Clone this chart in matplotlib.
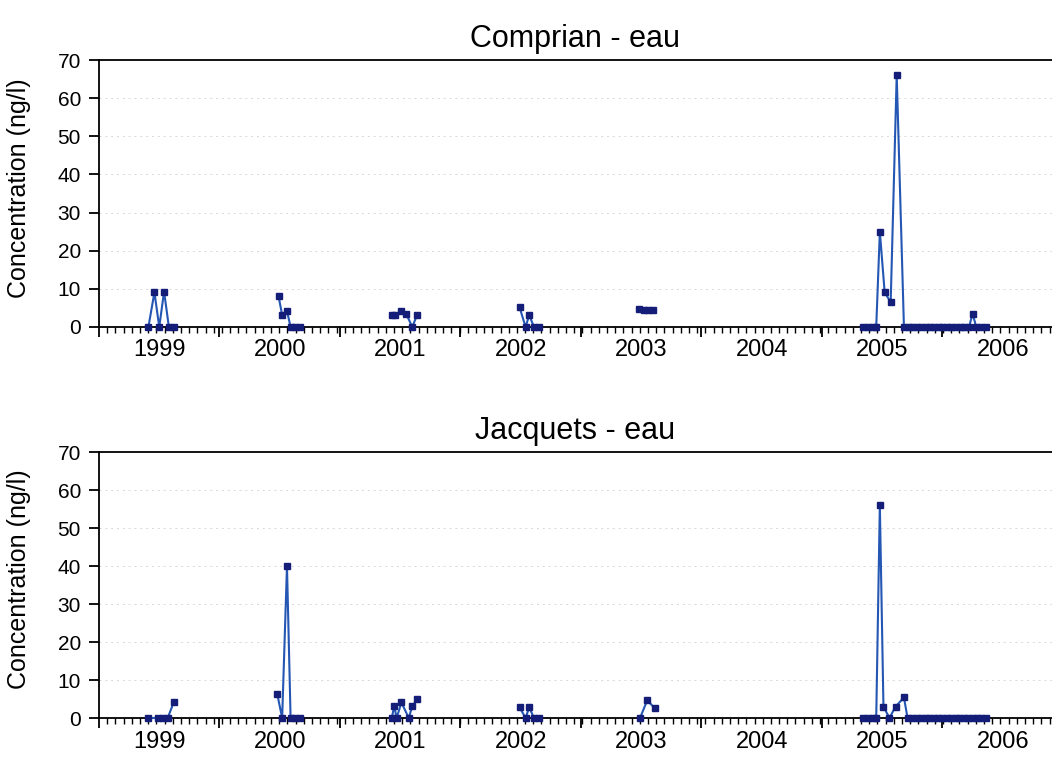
import numpy as np
import matplotlib
matplotlib.use('Agg')
import matplotlib.pyplot as plt
from matplotlib.ticker import FixedLocator, NullFormatter

nan = float('nan')

years = [1999, 2000, 2001, 2002, 2003, 2004, 2005, 2006]
titles = ['Comprian - eau', 'Jacquets - eau']
ylabel = 'Concentration (ng/l)'
yticks = [0, 10, 20, 30, 40, 50, 60, 70]

# sampling dates (decimal years) and concentrations; nan separates campaigns
comprian_t = [1999.41, 1999.46, 1999.50, 1999.54, 1999.58, 1999.62, nan,
              2000.49, 2000.52, 2000.56, 2000.59, 2000.63, 2000.67, nan,
              2001.43, 2001.46, 2001.51, 2001.55, 2001.60, 2001.64, nan,
              2002.49, 2002.54, 2002.57, 2002.61, 2002.65, nan,
              2003.48, 2003.52, 2003.56, 2003.60, nan,
              2005.34, 2005.38, 2005.42, 2005.45, 2005.48, 2005.52, 2005.57, 2005.62,
              2005.68, 2005.72, 2005.75, 2005.79, 2005.82, 2005.86, 2005.90, 2005.93,
              2005.97, 2006.00, 2006.04, 2006.07, 2006.11, 2006.15, 2006.18, 2006.22,
              2006.25, 2006.28, 2006.32, 2006.36]
comprian_v = [0, 9.1, 0, 9.3, 0, 0, nan,
              8.1, 3.1, 4.2, 0, 0, 0, nan,
              3.1, 3.1, 4.3, 3.4, 0, 3.2, nan,
              5.2, 0, 3.1, 0, 0, nan,
              4.6, 4.4, 4.4, 4.4, nan,
              0, 0, 0, 0, 25, 9.1, 6.5, 66.1,
              0, 0, 0, 0, 0, 0, 0, 0,
              0, 0, 0, 0, 0, 0, 0, 0,
              3.5, 0, 0, 0]

jacquets_t = [1999.41, 1999.49, 1999.53, 1999.57, 1999.62, nan,
              2000.48, 2000.52, 2000.56, 2000.59, 2000.63, 2000.67, nan,
              2001.43, 2001.45, 2001.47, 2001.51, 2001.57, 2001.60, 2001.64, nan,
              2002.49, 2002.54, 2002.57, 2002.61, 2002.65, nan,
              2003.49, 2003.55, 2003.61, nan,
              2005.34, 2005.38, 2005.42, 2005.45, 2005.48, 2005.51, 2005.56, 2005.61, 2005.68,
              2005.71, 2005.75, 2005.79, 2005.82, 2005.86, 2005.89, 2005.93, 2005.96,
              2006.00, 2006.04, 2006.07, 2006.11, 2006.14, 2006.18, 2006.21, 2006.25,
              2006.29, 2006.32, 2006.36]
jacquets_v = [0, 0, 0, 0, 4.1, nan,
              6.2, 0, 40, 0, 0, 0, nan,
              0, 3.2, 0, 4.1, 0, 3.1, 4.9, nan,
              2.8, 0, 2.8, 0, 0, nan,
              0, 4.7, 2.6, nan,
              0, 0, 0, 0, 56, 3.0, 0, 3.0, 5.4,
              0, 0, 0, 0, 0, 0, 0, 0,
              0, 0, 0, 0, 0, 0, 0, 0,
              0, 0, 0]

series = [(comprian_t, comprian_v), (jacquets_t, jacquets_v)]

plt.rcParams['font.family'] = ['Liberation Sans', 'DejaVu Sans']

W, H = 1052, 765
fig = plt.figure(figsize=(W / 100, H / 100), dpi=100)

positions = [[99 / W, 1 - 327 / H, 953 / W, 267 / H],
             [99 / W, 1 - 718 / H, 953 / W, 266 / H]]

line_color = '#2456b4'
marker_color = '#141e78'

for pos, title, (t, v) in zip(positions, titles, series):
    ax = fig.add_axes(pos)
    ax.plot(np.array(t, dtype=float), np.array(v, dtype=float), color=line_color, lw=1.5,
            marker='s', markersize=5, markerfacecolor=marker_color,
            markeredgecolor=marker_color, zorder=3, clip_on=False)
    ax.set_xlim(1999.0, 1999.0 + 953 / 120.5)
    ax.set_ylim(0, 70)
    ax.set_yticks(yticks)
    ax.tick_params(axis='y', direction='out', length=7, width=1.3, labelsize=15, pad=6)
    for y in yticks[1:-1]:
        ax.axhline(y, color='#d8d8d8', lw=0.7, ls=(0, (2, 4)), zorder=1)
    # major ticks at year boundaries, minor ticks along the date axis
    ax.xaxis.set_major_locator(FixedLocator(years + [2007]))
    ax.xaxis.set_major_formatter(NullFormatter())
    ax.xaxis.set_minor_locator(FixedLocator(np.arange(1999.0, 2007.0, 0.068)))
    ax.tick_params(axis='x', which='major', direction='out', length=7, width=1.3)
    ax.tick_params(axis='x', which='minor', direction='out', length=4, width=1.0)
    # year labels centred in each year interval
    sec = ax.secondary_xaxis('bottom')
    sec.set_xticks([y + 0.5 for y in years], [str(y) for y in years])
    sec.tick_params(length=0, labelsize=17, pad=9)
    sec.spines['bottom'].set_visible(False)
    for s in ['left', 'bottom', 'top']:
        ax.spines[s].set_linewidth(1.3)
        ax.spines[s].set_color('black')
    ax.spines['right'].set_visible(False)
    ax.set_ylabel(ylabel, fontsize=18)
    ax.yaxis.set_label_coords(-0.071, 0.52)
    ax.set_title(title, fontsize=22, pad=9)

fig.savefig('out.png', dpi=100)
